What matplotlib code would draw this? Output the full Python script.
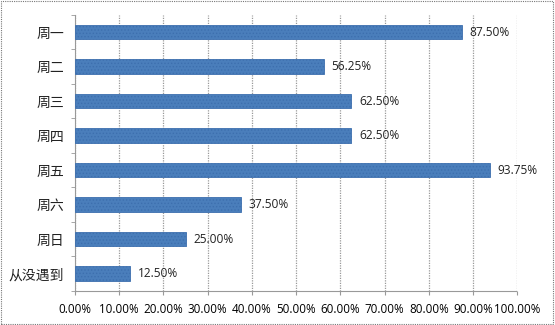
import matplotlib.pyplot as plt
import matplotlib.patches as patches
from matplotlib.ticker import FixedLocator

plt.rcParams['font.family'] = ['Noto Sans CJK SC', 'DejaVu Sans']
plt.rcParams['hatch.color'] = '#8fb4e0'
plt.rcParams['hatch.linewidth'] = 0.6

days = ['周一', '周二', '周三', '周四', '周五', '周六', '周日', '从没遇到']
shares = [87.50, 56.25, 62.50, 62.50, 93.75, 37.50, 25.00, 12.50]
xticks = [0, 10, 20, 30, 40, 50, 60, 70, 80, 90, 100]

num_font = ['Open Sans', 'DejaVu Sans']

fig = plt.figure(figsize=(5.55, 3.25), dpi=100)
ax = fig.add_axes([0.135, 0.105, 0.797, 0.849])

pos = list(range(len(days)))
ax.barh(pos, shares, height=0.42, color='#4a7ebb', edgecolor='#3d6fae',
        linewidth=0.6, hatch='.....', zorder=3)

for y, v in zip(pos, shares):
    ax.text(v + 1.7, y, f'{v:.2f}%', va='center', ha='left', fontsize=8.6,
            family=num_font, color='#222222')

ax.set_xlim(0, 100)
ax.set_ylim(len(days) - 0.5, -0.5)
ax.set_xticks(xticks)
ax.set_xticklabels([f'{t:.2f}%' for t in xticks], fontsize=8.4, family=num_font)
ax.set_yticks(pos)
ax.set_yticklabels(days, fontsize=10, color='#222222')
ax.yaxis.set_minor_locator(FixedLocator([p - 0.5 for p in pos] + [len(days) - 0.5]))
ax.tick_params(axis='y', which='major', length=0, pad=8)
ax.tick_params(axis='y', which='minor', length=3, color='#999999', direction='out')
ax.tick_params(axis='x', length=3, color='#999999', pad=6)

ax.grid(axis='x', color='#999999', linestyle=(0, (1, 1)), linewidth=0.9, zorder=0)
for s in ['top', 'right']:
    ax.spines[s].set_visible(False)
for s in ['left', 'bottom']:
    ax.spines[s].set_color('#999999')
    ax.spines[s].set_linestyle((0, (1, 1)))
    ax.spines[s].set_linewidth(0.8)

# dashed frame round the whole chart
fig.patches.append(patches.Rectangle((0.002, 0.003), 0.995, 0.993, transform=fig.transFigure,
                                     fill=False, edgecolor='#777777', linestyle=(0, (1, 1)),
                                     linewidth=0.8))

fig.savefig('out.png', dpi=100)
